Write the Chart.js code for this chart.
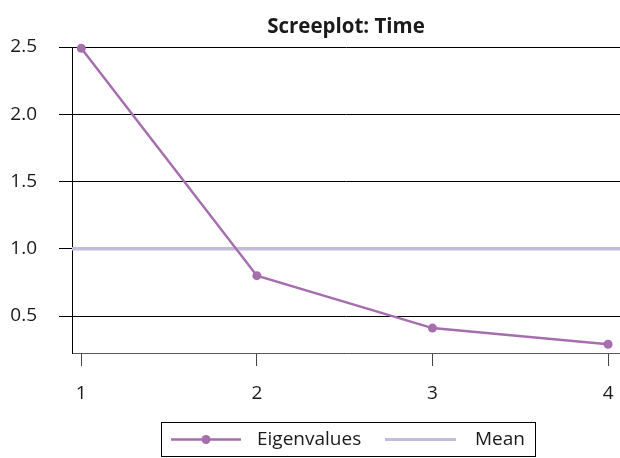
<!DOCTYPE html>
<html>
<head>
<meta charset="utf-8">
<script src="https://cdn.jsdelivr.net/npm/chart.js@4.4.1/dist/chart.umd.min.js"></script>
<style>
  html, body { margin: 0; padding: 0; background: #fff; }
  #wrap { width: 620px; height: 458px; position: relative; }
</style>
</head>
<body>
<div id="wrap"><canvas id="scree"></canvas></div>
<script>
const components = [1, 2, 3, 4];
const eigenvalues = [2.49, 0.80, 0.41, 0.29];
const meanValue = 1.0;
const xTickValues = [1, 2, 3, 4];
const yTickValues = [0.5, 1.0, 1.5, 2.0, 2.5];
const seriesLabels = ['Eigenvalues', 'Mean'];
const chartTitle = 'Screeplot: Time';

// axis bounds
const X_MIN = 0.947, X_MAX = 4.068;
const Y_MIN = 0.225, Y_MAX = 2.5;

const eigenColor = '#a56fae';
const meanColor = '#c4bdd9';
const fontFamily = "'Open Sans', sans-serif";
const labelSize = 19;

const decorations = {
    id: 'decorations',
    afterDraw(chart) {
        const { ctx, chartArea } = chart;
        ctx.save();
        ctx.fillStyle = '#1a1a1a';
        ctx.textBaseline = 'middle';

        // title, centred over the plot area
        ctx.font = `bold 20.5px ${fontFamily}`;
        ctx.textAlign = 'center';
        ctx.fillText(chartTitle, (chartArea.left + chartArea.right) / 2, 27);

        // boxed legend under the x axis
        const box = { left: 161.5, top: 422.5, right: 535.5, bottom: 456.5 };
        ctx.strokeStyle = '#000';
        ctx.lineWidth = 1;
        ctx.strokeRect(box.left, box.top, box.right - box.left, box.bottom - box.top);
        const midY = (box.top + box.bottom) / 2;

        ctx.font = `${labelSize}px ${fontFamily}`;
        ctx.textAlign = 'left';

        ctx.strokeStyle = eigenColor;
        ctx.lineWidth = 2.5;
        ctx.beginPath();
        ctx.moveTo(171, midY);
        ctx.lineTo(241, midY);
        ctx.stroke();
        ctx.fillStyle = eigenColor;
        ctx.beginPath();
        ctx.arc(206, midY, 4.5, 0, Math.PI * 2);
        ctx.fill();
        ctx.fillStyle = '#1a1a1a';
        ctx.fillText(seriesLabels[0], 257, midY);

        ctx.strokeStyle = meanColor;
        ctx.lineWidth = 3;
        ctx.beginPath();
        ctx.moveTo(385, midY);
        ctx.lineTo(456, midY);
        ctx.stroke();
        ctx.textAlign = 'right';
        ctx.fillText(seriesLabels[1], 525, midY);

        ctx.restore();
    },
};

new Chart(document.getElementById('scree').getContext('2d'), {
    type: 'line',
    data: {
        datasets: [
            {
                label: seriesLabels[0],
                data: components.map((c, i) => ({ x: c, y: eigenvalues[i] })),
                borderColor: eigenColor,
                backgroundColor: eigenColor,
                borderWidth: 2.5,
                pointRadius: 4.5,
                pointBorderWidth: 0,
                tension: 0,
                clip: false,
            },
            {
                label: seriesLabels[1],
                data: [{ x: X_MIN, y: meanValue }, { x: X_MAX, y: meanValue }],
                borderColor: meanColor,
                borderWidth: 3.5,
                pointRadius: 0,
                tension: 0,
            },
        ],
    },
    options: {
        responsive: true,
        maintainAspectRatio: false,
        animation: false,
        layout: { autoPadding: false, padding: { top: 47, right: 0, left: 0, bottom: 0 } },
        plugins: {
            legend: { display: false },
            title: { display: false },
            tooltip: { enabled: false },
        },
        scales: {
            x: {
                type: 'linear',
                min: X_MIN,
                max: X_MAX,
                afterFit: (scale) => {
                    scale.height = 105;
                    scale.paddingLeft = 0;
                    scale.paddingRight = 0;
                },
                afterBuildTicks: (scale) => { scale.ticks = xTickValues.map((v) => ({ value: v })); },
                grid: { drawOnChartArea: false, tickLength: 13, tickColor: '#444', lineWidth: 1 },
                border: { display: true, color: '#555', width: 1 },
                ticks: {
                    padding: 16,
                    color: '#1a1a1a',
                    font: { family: fontFamily, size: labelSize },
                    callback: (v) => String(v),
                },
            },
            y: {
                min: Y_MIN,
                max: Y_MAX,
                afterFit: (scale) => { scale.width = 72; },
                afterBuildTicks: (scale) => { scale.ticks = yTickValues.map((v) => ({ value: v })); },
                grid: { color: '#000', tickColor: '#000', tickLength: 13, lineWidth: 1 },
                border: { display: true, color: '#000', width: 1 },
                ticks: {
                    padding: 22,
                    color: '#1a1a1a',
                    font: { family: fontFamily, size: labelSize },
                    callback: (v) => v.toFixed(1),
                },
            },
        },
    },
    plugins: [decorations],
});
</script>
</body>
</html>
